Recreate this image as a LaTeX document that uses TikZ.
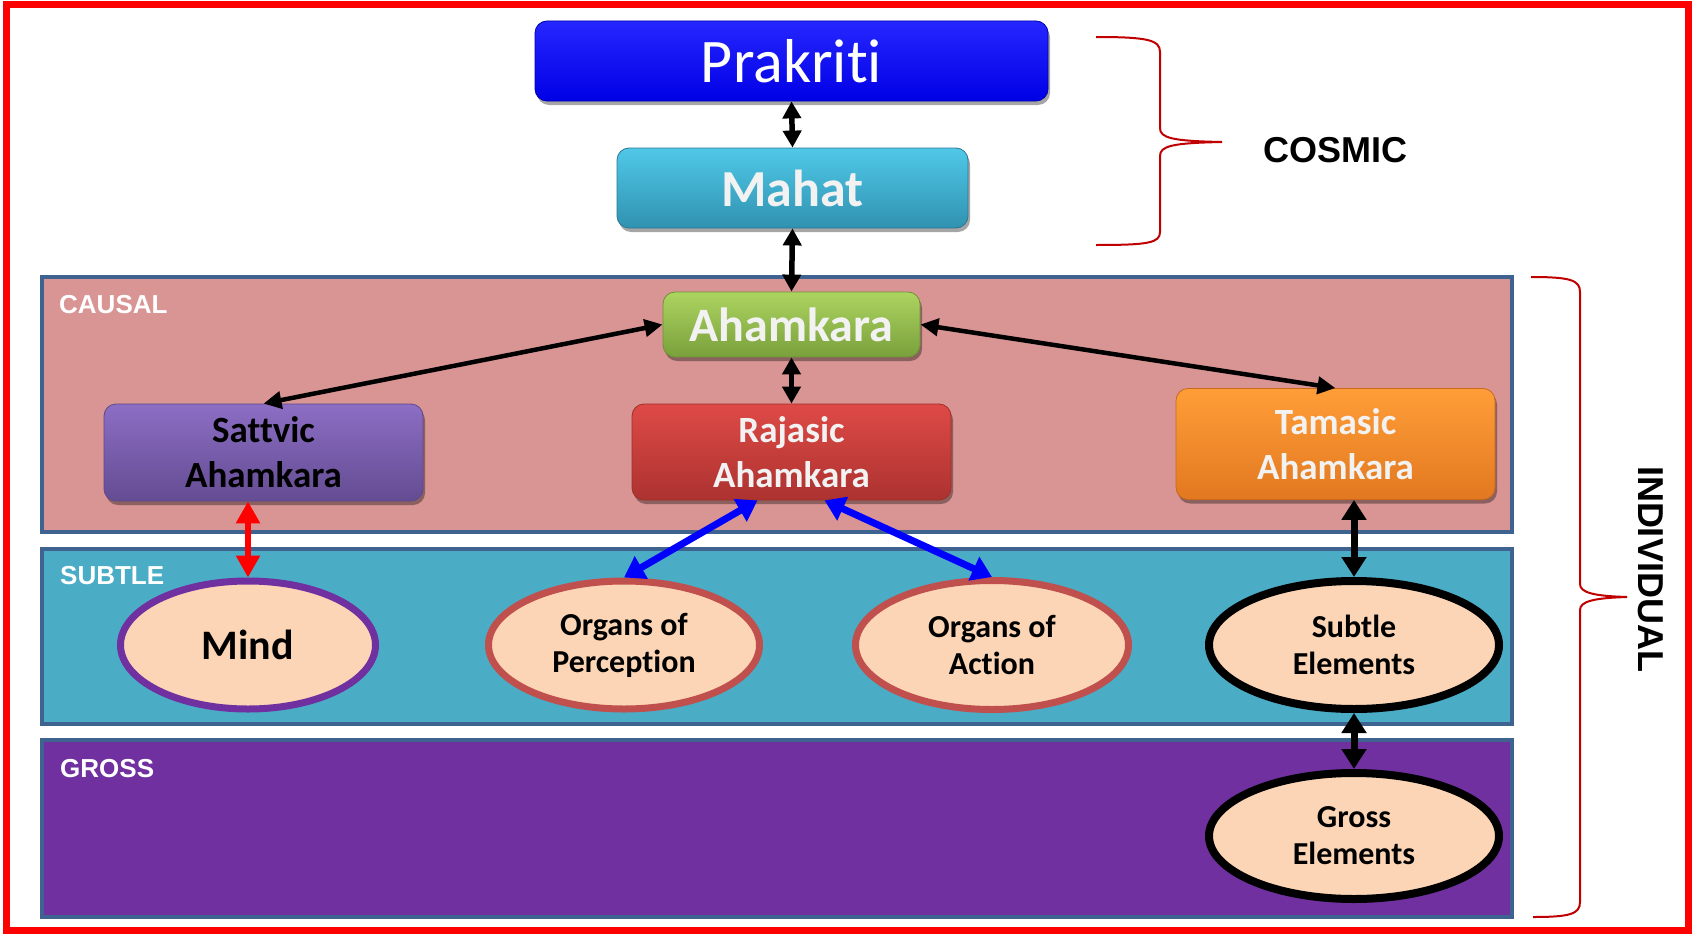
\documentclass[tikz,border=0pt]{standalone}
\usepackage{fontspec}
\setmainfont{Carlito}[Ligatures={NoCommon,NoContextual}]
\newfontfamily\arialf{Liberation Sans}
\usetikzlibrary{arrows.meta,shapes.geometric,shadows,calc}
\definecolor{bandborder}{HTML}{3F6391}
\definecolor{causalfill}{HTML}{D99594}
\definecolor{subtlefill}{HTML}{4BACC6}
\definecolor{grossfill}{HTML}{7030A0}
\definecolor{peach}{HTML}{FBD5B5}
\definecolor{bracered}{HTML}{C00000}
\definecolor{mindborder}{HTML}{7030A0}
\definecolor{organborder}{HTML}{C0504D}
\definecolor{offwhite}{HTML}{F2F2F2}
\tikzset{
  box/.style={rounded corners=12pt, inner sep=0pt, align=center,
    drop shadow={shadow xshift=2pt, shadow yshift=-4pt, opacity=0.35, fill=black}},
  band/.style={draw=bandborder, line width=4pt, inner sep=0pt, rectangle},
  oval/.style={ellipse, fill=peach, inner sep=0pt, align=center,
    font=\bfseries\fontsize{32}{37}\selectfont},
  bandlabel/.style={anchor=base west, inner sep=0pt, text=white,
    font=\arialf\bfseries\fontsize{26}{26}\selectfont},
  biarrow/.style={line width=5.5pt, {Triangle[length=17pt,width=18pt]}-{Triangle[length=17pt,width=18pt]}},
  slantarrow/.style={line width=4.5pt, {Triangle[length=18pt,width=17pt]}-{Triangle[length=18pt,width=17pt]}},
  fatarrow/.style={line width=7pt, {Triangle[length=20pt,width=24pt]}-{Triangle[length=20pt,width=24pt]}},
  redarrow/.style={draw=red, line width=6pt, {Triangle[length=22pt,width=23pt]}-{Triangle[length=22pt,width=23pt]}},
  bluearrow/.style={draw=blue, line width=7pt, {Triangle[length=20pt,width=25pt]}-{Triangle[length=20pt,width=25pt]}},
  bracepath/.style={draw=bracered, line width=2pt},
  sidelabel/.style={inner sep=0pt, font=\arialf\bfseries\fontsize{36}{36}\selectfont}
}
\begin{document}
\begin{tikzpicture}[x=1pt,y=-1pt]
\useasboundingbox (0,0) rectangle (1698,934);
\fill[white] (0,0) rectangle (1698,934);
% outer red frame
\draw[red, line width=7pt] (6,5) rectangle (1688,930);

% bands
\node[band, fill=causalfill, minimum width=1470pt, minimum height=255pt] (causal) at (777,404.5) {};
\node[band, fill=subtlefill, minimum width=1470pt, minimum height=175pt] (subtle) at (777,636.5) {};
\node[band, fill=grossfill, minimum width=1470pt, minimum height=177pt] (gross) at (777,828.5) {};
\node[bandlabel] (lcausal) at (59,313) {CAUSAL};
\node[bandlabel] (lsubtle) at (60,584) {SUBTLE};
\node[bandlabel] (lgross) at (60,777) {GROSS};

% boxes
\node[box, top color=blue!85!white, bottom color=blue!90!black, draw=blue!70!black, line width=0.8pt,
  minimum width=513pt, minimum height=80pt, text=white,
  font=\fontsize{62}{62}\selectfont] (prak) at (791.5,61) {Prakriti};
\node[box, top color={rgb,255:red,80;green,200;blue,232}, bottom color={rgb,255:red,48;green,146;blue,176},
  draw={rgb,255:red,40;green,120;blue,150}, line width=0.8pt,
  minimum width=351pt, minimum height=80pt, text=offwhite,
  font=\bfseries\fontsize{52}{52}\selectfont] (mahat) at (792.5,188) {Mahat};
\node[box, top color={rgb,255:red,172;green,212;blue,96}, bottom color={rgb,255:red,122;green,160;blue,60},
  draw={rgb,255:red,110;green,145;blue,55}, line width=0.8pt,
  minimum width=257pt, minimum height=65pt, text=offwhite,
  font=\bfseries\fontsize{48}{48}\selectfont] (aham) at (791.5,324.5) {Ahamkara};
\node[box, top color={rgb,255:red,140;green,110;blue,196}, bottom color={rgb,255:red,100;green,76;blue,146},
  draw={rgb,255:red,95;green,72;blue,140}, line width=0.8pt,
  minimum width=319pt, minimum height=97pt, text=black,
  font=\bfseries\fontsize{37}{45}\selectfont] (satt) at (263.5,452.5) {Sattvic\\Ahamkara};
\node[box, top color={rgb,255:red,222;green,74;blue,70}, bottom color={rgb,255:red,172;green,50;blue,48},
  draw={rgb,255:red,160;green,45;blue,42}, line width=0.8pt,
  minimum width=319pt, minimum height=96pt, text=offwhite,
  font=\bfseries\fontsize{37}{45}\selectfont] (raj) at (791.5,452) {Rajasic\\Ahamkara};
\node[box, top color={rgb,255:red,255;green,158;blue,56}, bottom color={rgb,255:red,226;green,120;blue,32},
  draw={rgb,255:red,200;green,105;blue,30}, line width=0.8pt,
  minimum width=319pt, minimum height=111pt, text=offwhite,
  font=\bfseries\fontsize{37}{45}\selectfont] (tam) at (1335.5,444) {Tamasic\\Ahamkara};

% ellipses
\node[oval, draw=mindborder, line width=7pt, minimum width=255pt, minimum height=128pt,
  font=\bfseries\fontsize{42}{42}\selectfont] (mind) at (248,645) {Mind};
\node[oval, draw=organborder, line width=7pt, minimum width=271pt, minimum height=128pt] (op) at (624,645) {Organs of\\Perception};
\node[oval, draw=organborder, line width=7pt, minimum width=273pt, minimum height=129pt] (oa) at (992,645) {Organs of\\Action};
\node[oval, draw=black, line width=8pt, minimum width=290pt, minimum height=128pt] (se) at (1354,645) {Subtle\\Elements};
\node[oval, draw=black, line width=8pt, minimum width=290pt, minimum height=126pt] (ge) at (1354,836) {Gross\\Elements};

% connectors
\draw[biarrow] (prak.south) -- (mahat.north);
\draw[biarrow] (mahat.south) -- (aham.north);
\draw[biarrow] (aham.south) -- (raj.north);
\draw[slantarrow] (aham.west) -- (satt.north);
\draw[slantarrow] (aham.east) -- (tam.north);
\draw[redarrow] (mind.north |- satt.south) -- (mind.north);
\draw[bluearrow] ([xshift=-34pt]raj.south) -- (op.north);
\draw[bluearrow] ([xshift=33pt]raj.south) -- (oa.north);
\draw[fatarrow] (se.north |- tam.south) -- (se.north);
\draw[fatarrow] (se.south) -- (ge.north);

% braces
\coordinate (cb1) at (1096,37);
\coordinate (cbtip) at (1222,142);
\coordinate (cb2) at (1096,245);
\draw[bracepath] (cb1) .. controls (1148,37) and (1160,40) .. (1160,52)
  -- (1160,128) .. controls (1160,138) and (1172,141) .. (cbtip)
  .. controls (1172,143) and (1160,146) .. (1160,156)
  -- (1160,232) .. controls (1160,243) and (1148,245) .. (cb2);
\coordinate (ib1) at (1531,277);
\coordinate (ibtip) at (1627,597);
\coordinate (ib2) at (1533,917);
\draw[bracepath] (ib1) .. controls (1570,277) and (1580,280) .. (1580,292)
  -- (1580,584) .. controls (1580,593) and (1595,596) .. (ibtip)
  .. controls (1595,598) and (1580,601) .. (1580,610)
  -- (1580,902) .. controls (1580,914) and (1570,917) .. (ib2);
\node[sidelabel] (cosmic) at (1335,150) {COSMIC};
\node[sidelabel, rotate=-90] (indiv) at (1651,569) {INDIVIDUAL};
\end{tikzpicture}
\end{document}
